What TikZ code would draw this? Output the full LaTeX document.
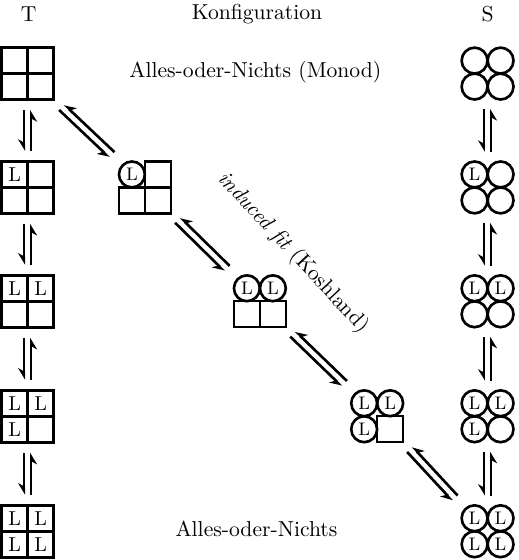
\documentclass[tikz,border=0pt]{standalone}
\usepackage{fontspec}
\usepackage{tikz}
\usetikzlibrary{arrows.meta,calc,positioning}

\tikzset{
  tbox/.style={draw, line width=1.5pt, rectangle, minimum size=0.904cm, inner sep=0pt},
  leer/.style={rectangle, minimum size=0.904cm, inner sep=0pt},
  zelle/.style={draw, line width=1.2pt, rectangle, minimum size=0.452cm, inner sep=0pt},
  kreis/.style={draw, line width=1.3pt, circle, minimum size=0.45cm, inner sep=0pt,
                font=\fontsize{9}{10}\selectfont},
  lt/.style={inner sep=0pt, font=\fontsize{10}{11}\selectfont},
  harp/.style={line width=1.3pt, shorten <=4.5pt, shorten >=4.5pt,
               -{Stealth[harpoon,swap,length=5pt,width=6pt]}},
}

\begin{document}
\begin{tikzpicture}[x=2cm, y=2cm, font=\fontsize{10.7}{13}\selectfont]
  \useasboundingbox (0,0) rectangle (4.513,4.870);
  % Kopfzeile und Beschriftung
  \node (kopfT) at (0.25,4.75) {T};
  \node (kopf)  at (2.235,4.75) {Konfiguration};
  \node (kopfS) at (4.24,4.75) {S};
  \node (monod) at (2.22,4.24) {Alles-oder-Nichts (Monod)};
  \node (aon)   at (2.23,0.27) {Alles-oder-Nichts};
  \node[rotate=-47] (koshland) at (2.55,2.67) {\textit{induced fit} (Koshland)};
  % T-Zustand (Quadrate)
  \foreach \i/\y in {0/4.23,1/3.24,2/2.25,3/1.25,4/0.25} {
    \node[tbox] (t\i) at (0.24,\y) {};
    \draw[line width=1.5pt] (t\i.north) -- (t\i.south) (t\i.west) -- (t\i.east);
  }
  \foreach \n/\dx/\dy [count=\k] in {t1/-.113/.113,
      t2/-.113/.113, t2/.113/.113,
      t3/-.113/.113, t3/.113/.113, t3/-.113/-.113,
      t4/-.113/.113, t4/.113/.113, t4/-.113/-.113, t4/.113/-.113}
    \node[lt] (tl\k) at ($(\n)+(\dx,\dy)$) {L};
  % S-Zustand (Kreise)
  \foreach \i/\y in {0/4.23,1/3.24,2/2.25,3/1.25,4/0.25}
    \node[leer] (s\i) at (4.24,\y) {};
  \foreach \n/\dx/\dy/\txt [count=\k] in {
      s0/-.113/.113/{}, s0/.113/.113/{}, s0/-.113/-.113/{}, s0/.113/-.113/{},
      s1/-.113/.113/L, s1/.113/.113/{}, s1/-.113/-.113/{}, s1/.113/-.113/{},
      s2/-.113/.113/L, s2/.113/.113/L, s2/-.113/-.113/{}, s2/.113/-.113/{},
      s3/-.113/.113/L, s3/.113/.113/L, s3/-.113/-.113/L, s3/.113/-.113/{},
      s4/-.113/.113/L, s4/.113/.113/L, s4/-.113/-.113/L, s4/.113/-.113/L}
    \node[kreis] (sk\k) at ($(\n)+(\dx,\dy)$) {\txt};
  % Zwischenstufen (induced fit)
  \node[leer] (d1) at (1.26,3.24) {};
  \node[leer] (d2) at (2.26,2.25) {};
  \node[leer] (d3) at (3.28,1.25) {};
  \foreach \n/\dx/\dy [count=\k] in {d1/.113/.113, d1/-.113/-.113, d1/.113/-.113,
      d2/-.113/-.113, d2/.113/-.113, d3/.113/-.113}
    \node[zelle] (dz\k) at ($(\n)+(\dx,\dy)$) {};
  \foreach \n/\dx/\dy [count=\k] in {d1/-.113/.113,
      d2/-.113/.113, d2/.113/.113,
      d3/-.113/.113, d3/.113/.113, d3/-.113/-.113}
    \node[kreis] (dk\k) at ($(\n)+(\dx,\dy)$) {L};
  % Gleichgewichtspfeile
  \foreach \a/\b in {t0/t1,t1/t2,t2/t3,t3/t4,s0/s1,s1/s2,s2/s3,s3/s4} {
    \draw[harp] ([xshift=-1.7pt]\a.south) -- ([xshift=-1.7pt]\b.north);
    \draw[harp] ([xshift=1.7pt]\b.north) -- ([xshift=1.7pt]\a.south);
  }
  \foreach \a/\b in {t0/d1,d1/d2,d2/d3,d3/s4} {
    \draw[harp] ([shift={(-1.3pt,-1.3pt)}]\a.south east) -- ([shift={(-1.3pt,-1.3pt)}]\b.north west);
    \draw[harp] ([shift={(1.3pt,1.3pt)}]\b.north west) -- ([shift={(1.3pt,1.3pt)}]\a.south east);
  }
\end{tikzpicture}
\end{document}
